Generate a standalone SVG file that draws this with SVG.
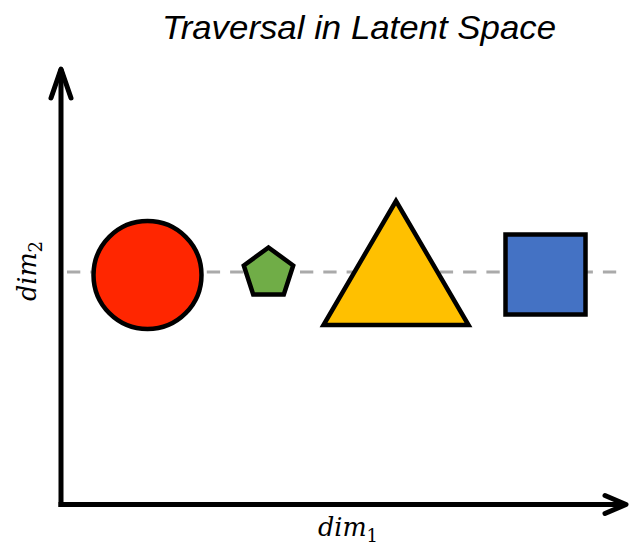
<svg xmlns="http://www.w3.org/2000/svg" width="631" height="555" viewBox="0 0 631 555">
<style>
.shape{stroke:#000;stroke-width:4.5;stroke-linejoin:miter}
.axis{stroke:#000;stroke-width:5;fill:none}
.lbl{font-family:"DejaVu Serif","Liberation Serif",serif;font-style:italic;font-size:25.5px;fill:#000}
.sub{font-style:normal;font-size:18px}
.title{font-family:"Liberation Sans",Arial,sans-serif;font-style:italic;font-size:33.5px;fill:#000}
</style>
<defs>
<marker id="arrY" markerUnits="userSpaceOnUse" orient="auto" refX="0" refY="0" overflow="visible" markerWidth="1" markerHeight="1">
<path d="M-29,-10 L0,0 L-29,10" fill="none" stroke="#000" stroke-width="5" stroke-linecap="round" stroke-linejoin="round"/>
</marker>
<marker id="arrX" markerUnits="userSpaceOnUse" orient="auto" refX="0" refY="0" overflow="visible" markerWidth="1" markerHeight="1">
<path d="M-21,-9 L0,0 L-21,9" fill="none" stroke="#000" stroke-width="5" stroke-linecap="round" stroke-linejoin="round"/>
</marker>
</defs>
<text class="title" x="162" y="38.5" textLength="394" lengthAdjust="spacingAndGlyphs">Traversal in Latent Space</text>
<g id="connectors">
<line x1="67" y1="272" x2="618" y2="272" stroke="#aaaaaa" stroke-width="3" stroke-dasharray="13.3 10"/>
<line class="axis" x1="61" y1="507" x2="61" y2="69" marker-end="url(#arrY)"/>
<line class="axis" x1="58.5" y1="504.5" x2="626" y2="504.5" marker-end="url(#arrX)"/>
</g>
<g id="circle"><circle class="shape" cx="147.5" cy="275" r="54" fill="#ff2600"/></g>
<g id="pentagon"><polygon class="shape" points="268.5,247.5 293.2,265.5 283.8,294.5 253.2,294.5 243.8,265.5" fill="#70ad47"/></g>
<g id="triangle"><polygon class="shape" points="396,201 323.5,325 468.5,325" fill="#ffc000"/></g>
<g id="square"><rect class="shape" x="505.5" y="234.5" width="80" height="80" fill="#4472c4"/></g>
<text class="lbl" x="348" y="536" text-anchor="middle">dim<tspan class="sub" dy="6">1</tspan></text>
<text class="lbl" transform="translate(36,271) rotate(-90)" text-anchor="middle">dim<tspan class="sub" dy="6">2</tspan></text>
</svg>
